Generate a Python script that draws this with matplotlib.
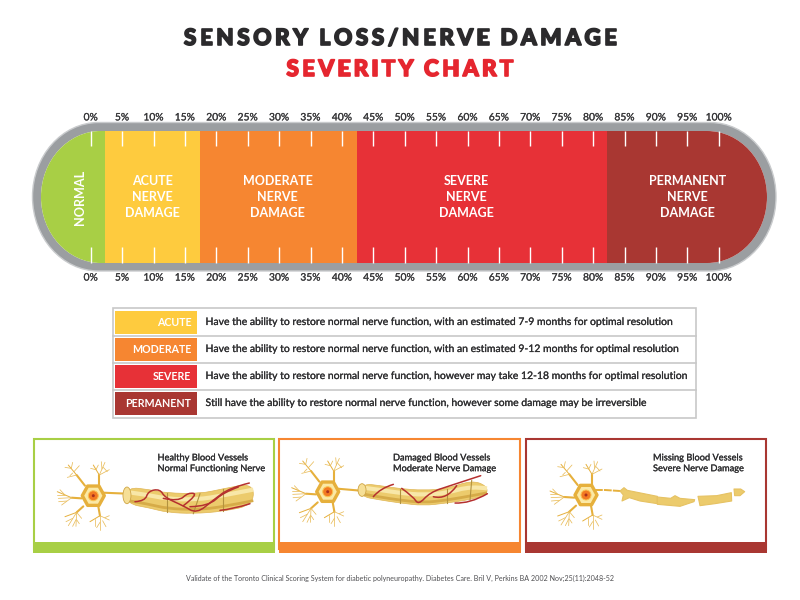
import matplotlib
matplotlib.use("Agg")
import matplotlib.pyplot as plt
import matplotlib.patheffects as pe
from matplotlib.patches import PathPatch, Rectangle, Polygon, Circle, Ellipse
from matplotlib.path import Path

plt.rcParams['font.family'] = ['Lato', 'DejaVu Sans']

# gauge data
tick_pct = [0, 5, 10, 15, 20, 25, 30, 35, 40, 45, 50, 55, 60, 65, 70, 75, 80, 85, 90, 95, 100]
segment_edges = [-8.5, 2.3, 17.4, 42.4, 82.2, 108.5]
segment_colors = ['#a8cf45', '#fecb3e', '#f68631', '#e73137', '#a93732']
segment_labels = ['NORMAL', 'ACUTE\nNERVE\nDAMAGE', 'MODERATE\nNERVE\nDAMAGE', 'SEVERE\nNERVE\nDAMAGE', 'PERMANENT\nNERVE\nDAMAGE']
label_pct = [-1.7, 9.8, 29.8, 59.8, 95.0]

# legend table
legend_names = ['ACUTE', 'MODERATE', 'SEVERE', 'PERMANENT']
legend_colors = ['#fecb3e', '#f68631', '#e73137', '#a93732']
legend_texts = [
    'Have the ability to restore normal nerve function, with an estimated 7-9 months for optimal resolution',
    'Have the ability to restore normal nerve function, with an estimated 9-12 months for optimal resolution',
    'Have the ability to restore normal nerve function, however may take 12-18 months for optimal resolution',
    'Still have the ability to restore normal nerve function, however some damage may be irreversible',
]

# bottom panels
panel_titles = ['Healthy Blood Vessels\nNormal Functioning Nerve',
                'Damaged Blood Vessels\nModerate Nerve Damage',
                'Missing Blood Vessels\nSevere Nerve Damage']
panel_colors = ['#a8cf45', '#f68631', '#a93732']

# neuron drawing, in zoomed px (3x) relative to the soma
dendrites = [
    [(-25, -30), (-50, -62), (-75, -92)], [(-50, -62), (-78, -55)], [(-58, -72), (-42, -90)], [(-66, -82), (-62, -100)],
    [(-66, -82), (-85, -85)], [(-62, -68), (-70, -60)],
    [(18, -30), (18, -62), (0, -92)], [(18, -62), (35, -100)], [(18, -62), (48, -78)], [(30, -85), (42, -72)],
    [(8, -78), (15, -92)], [(8, -78), (-8, -82)], [(26, -80), (24, -102)],
    [(-35, 8), (-65, 6), (-108, -12)], [(-65, 6), (-105, 8)], [(-65, 6), (-95, 28)], [(-85, -2), (-100, -18)],
    [(-80, 16), (-104, 18)], [(-85, -2), (-108, -2)],
    [(-30, 32), (-50, 50), (-85, 63)], [(-50, 50), (-75, 90)], [(-50, 50), (-52, 92)], [(-50, 50), (-35, 68)],
    [(-62, 68), (-82, 78)], [(-52, 72), (-62, 92)], [(-50, 72), (-42, 84)],
    [(15, 32), (20, 60), (-10, 78)], [(20, 60), (20, 103)], [(20, 60), (48, 73)], [(28, 75), (38, 93)],
    [(5, 70), (5, 90)], [(20, 80), (10, 96)], [(34, 66), (48, 60)],
]
hex_angles = [(33, 0), (17, -29), (-17, -29), (-33, 0), (-17, 29), (17, 29)]

healthy_top = [(232, 96), (300, 104), (350, 114), (450, 116), (520, 101), (610, 84)]
healthy_bot = [(610, 150), (520, 169), (430, 176), (350, 172), (300, 159), (230, 146)]
healthy_vessels = [
    [(255, 140), (285, 138), (295, 108), (330, 102), (345, 128), (400, 152), (440, 176), (490, 135), (540, 98), (598, 84)],
    [(340, 130), (385, 140), (415, 112), (445, 118), (400, 152)],
    [(420, 155), (475, 154), (520, 112), (565, 96)],
    [(510, 166), (550, 162), (600, 146)],
]
moderate_top = [(220, 86), (265, 91), (330, 101), (400, 106), (470, 101), (545, 76), (590, 92)]
moderate_bot = [(592, 119), (540, 134), (470, 144), (400, 152), (330, 144), (265, 134), (212, 124)]
moderate_vessels = [
    [(250, 125), (270, 100), (310, 88)],
    [(335, 100), (370, 125), (385, 150), (420, 112), (480, 92), (572, 62)],
    [(430, 125), (470, 135), (500, 92)],
    [(495, 144), (540, 146), (592, 116)],
]
severe_segments = [
    [(240, 108), (252, 98), (262, 106), (352, 124), (352, 146), (300, 138), (268, 128), (246, 138), (250, 120)],
    [(352, 126), (392, 130), (405, 122), (420, 130), (464, 134), (462, 140), (420, 154), (352, 148)],
    [(474, 124), (530, 122), (574, 113), (575, 138), (525, 146), (480, 152)],
    [(582, 102), (602, 102), (614, 110), (600, 122), (584, 122)],
]
severe_link = [(165, 105), (195, 105), (240, 108)]

fig = plt.figure(figsize=(8, 6), dpi=100)
ax = fig.add_axes([0, 0, 1, 1])
ax.set_xlim(0, 800)
ax.set_ylim(600, 0)
ax.axis('off')


def stadium(x0, x1, y0, y1, rx, ry):
    k = 0.5523
    ym = (y0 + y1) / 2
    verts = [(x0 + rx, y0), (x1 - rx, y0),
             (x1 - rx + k * rx, y0), (x1, ym - k * ry), (x1, ym),
             (x1, ym + k * ry), (x1 - rx + k * rx, y1), (x1 - rx, y1),
             (x0 + rx, y1),
             (x0 + rx - k * rx, y1), (x0, ym + k * ry), (x0, ym),
             (x0, ym - k * ry), (x0 + rx - k * rx, y0), (x0 + rx, y0)]
    codes = [Path.MOVETO, Path.LINETO] + [Path.CURVE4] * 6 + [Path.LINETO] + [Path.CURVE4] * 6
    return Path(verts, codes)


def smooth_path(points, closed=False):
    # quadratic curve through the midpoints of a polyline
    if closed:
        points = points + points[:2]
        start = ((points[0][0] + points[1][0]) / 2, (points[0][1] + points[1][1]) / 2)
        verts, codes = [start], [Path.MOVETO]
    else:
        verts, codes = [points[0]], [Path.MOVETO]
    for i in range(1, len(points) - 1):
        mid = ((points[i][0] + points[i + 1][0]) / 2, (points[i][1] + points[i + 1][1]) / 2)
        if not closed and i == len(points) - 2:
            mid = points[i + 1]
        verts += [points[i], mid]
        codes += [Path.CURVE3, Path.CURVE3]
    return Path(verts, codes)


def spaced_text(x, y, s, extra, **kw):
    # centred text with letter spacing, one glyph at a time
    r = fig.canvas.get_renderer()
    widths = []
    for ch in s:
        if ch == ' ':
            t = ax.text(0, 0, 'n', **kw)
            w = t.get_window_extent(r).width * 0.3
        else:
            t = ax.text(0, 0, ch, **kw)
            w = t.get_window_extent(r).width
        t.remove()
        widths.append(w)
    total = sum(widths) + extra * (len(s) - 1)
    cx = x - total / 2
    for ch, w in zip(s, widths):
        if ch != ' ':
            ax.text(cx, y, ch, ha='left', va='center', **kw)
        cx += w + extra


# title
spaced_text(400.5, 38.5, 'SENSORY LOSS/NERVE DAMAGE', 3.5, fontsize=16.2, fontweight='black', color='#2b2a2c',
            path_effects=[pe.withStroke(linewidth=1.2, foreground='#2b2a2c')])
spaced_text(400, 69.5, 'SEVERITY CHART', 3.3, fontsize=16.2, fontweight='black', color='#e5262f',
            path_effects=[pe.withStroke(linewidth=1.2, foreground='#e5262f')])

# gauge shell
ax.add_patch(PathPatch(stadium(32.5, 776, 122.5, 271, 66, 74), fc='#9b9ea1', ec='#c9cbcd', lw=1))
inner = PathPatch(stadium(41, 767, 131, 263, 60, 66), fc='white', ec='none')
ax.add_patch(inner)

# gauge axes in percent, 0% at x=90.7 px and 6.28 px per percent
gauge = fig.add_axes([0, 1 - 271.5 / 600, 1, 147 / 600])
gauge.patch.set_alpha(0)
gauge.set_xlim(-90.7 / 6.28, (800 - 90.7) / 6.28)
gauge.set_ylim(271.5, 124.5)
for s in gauge.spines.values():
    s.set_visible(False)
gauge.set_yticks([])
gauge.set_xticks(tick_pct, [f'{p}%' for p in tick_pct])
gauge.tick_params(axis='x', top=True, bottom=True, labeltop=True, labelbottom=True,
                  length=0, pad=1.5, labelsize=7.4, labelcolor='#38383a')
for lab in gauge.get_xticklabels(which='major'):
    lab.set_path_effects([pe.withStroke(linewidth=0.15, foreground='#38383a')])

for i, color in enumerate(segment_colors):
    bars = gauge.bar(segment_edges[i], 132, width=segment_edges[i + 1] - segment_edges[i], bottom=131,
                     align='edge', color=color, lw=0)
    bars[0].set_clip_path(inner)

gauge.vlines(tick_pct, 131, 145.5, color='white', lw=1)
gauge.vlines(tick_pct, 247, 263, color='white', lw=1)

for i, label in enumerate(segment_labels):
    if label == 'NORMAL':
        gauge.text(label_pct[i], 197, label, rotation=90, ha='center', va='center', color='white',
                   fontsize=9.1, fontweight='bold')
    else:
        gauge.text(label_pct[i], 197, label, ha='center', va='center', color='white', fontsize=9.0,
                   fontweight='bold', linespacing=1.42, multialignment='center')

# legend table
semi = [pe.withStroke(linewidth=0.15, foreground='#2e2e30')]
ax.add_patch(Rectangle((112.5, 307.5), 583, 110, fc='white', ec='#c8c8c8', lw=1.2))
for i, name in enumerate(legend_names):
    top = 311 + 27 * i
    ax.add_patch(Rectangle((114.5, top), 82.5, 23, fc=legend_colors[i], ec='none'))
    if i < 3:
        ax.plot([112.5, 695.5], [top + 24.8, top + 24.8], color='#c8c8c8', lw=1.2)
    ax.text(191.5, top + 11.5, name, ha='right', va='center', color='white', fontsize=7.7, fontweight='bold')
    ax.text(205.5, top + 11.5, legend_texts[i], ha='left', va='center', color='#2e2e30', fontsize=7.5,
            path_effects=semi)


def draw_neuron(cx, cy):
    stroke = '#e6b03c'
    for d in dendrites:
        xs = [cx + p[0] / 3 for p in d]
        ys = [cy + p[1] / 3 for p in d]
        if len(d) == 3:
            ax.plot(xs[:2], ys[:2], color=stroke, lw=1.5, solid_capstyle='round', zorder=3)
            ax.plot(xs[1:], ys[1:], color=stroke, lw=0.7, solid_capstyle='round', zorder=3)
        else:
            ax.plot(xs, ys, color='#e9bd5c', lw=0.55, solid_capstyle='round', zorder=3)
    hexagon = [(cx + a / 3, cy + b / 3) for a, b in hex_angles]
    ax.add_patch(Polygon(hexagon, fc='#fbe9a6', ec=stroke, lw=2.4, joinstyle='round', zorder=4))
    ax.add_patch(Circle((cx, cy), 5, fc='#f37a22', ec='#f9c552', lw=0.7, zorder=5))
    ax.add_patch(Circle((cx, cy), 1.5, fc='#a9301c', ec='none', zorder=6))


def to_px(points, cx, cy, ox, oy):
    return [(cx + (a - ox) / 3, cy + (b - oy) / 3) for a, b in points]


def draw_tube(top, bot, cx, cy, ox, oy, breaks):
    outline = to_px(top + bot, cx, cy, ox, oy)
    ax.add_patch(PathPatch(smooth_path(outline, closed=True), fc='#eccb6c', ec='#e0b655', lw=0.5, zorder=3))
    rev = bot[::-1]
    shine = [((t[0] + b[0]) / 2, t[1] + (b[1] - t[1]) * 0.3) for t, b in zip(top, rev)]
    shadow = [((t[0] + b[0]) / 2, t[1] + (b[1] - t[1]) * 0.8) for t, b in zip(top, rev)]
    ax.add_patch(PathPatch(smooth_path(to_px(shine, cx, cy, ox, oy)), fc='none', ec='#f8e7a8', lw=3, zorder=3.2))
    ax.add_patch(PathPatch(smooth_path(to_px(shadow, cx, cy, ox, oy)), fc='none', ec='#d6ab48', lw=2, zorder=3.2))
    for i in breaks:
        p = to_px([top[i], rev[i]], cx, cy, ox, oy)
        ax.plot([q[0] for q in p], [q[1] for q in p], color='#b3923f', lw=0.8, zorder=3.4)
    p0 = to_px([top[0], bot[-1]], cx, cy, ox, oy)
    ax.add_patch(Ellipse(((p0[0][0] + p0[1][0]) / 2, (p0[0][1] + p0[1][1]) / 2), 8,
                         abs(p0[1][1] - p0[0][1]), fc='#f6df96', ec='#cfa545', lw=0.6, zorder=3.5))


def draw_vessels(lines, cx, cy, ox, oy):
    for line in lines:
        ax.add_patch(PathPatch(smooth_path(to_px(line, cx, cy, ox, oy)), fc='none', ec='#b5302f', lw=1.1,
                               capstyle='round', zorder=3.6))


# bottom panels
panel_x = [[33, 275], [278.5, 521], [525, 767]]
for i, (x0, x1) in enumerate(panel_x):
    c = panel_colors[i]
    ax.add_patch(Rectangle((x0 + 0.7, 438.7), x1 - x0 - 1.4, 110, fc='white', ec=c, lw=1.5))
    ax.add_patch(Rectangle((x0, 541.5), x1 - x0, 11.5, fc=c, ec='none'))

text_x = [157.5, 393, 653]
for i, title in enumerate(panel_titles):
    ax.text(text_x[i], 463.3, title, ha='left', va='center', color='#2e2e30', fontsize=6.65,
            linespacing=1.25, path_effects=semi)

# healthy
cx, cy = 93.3, 495.7
draw_tube(healthy_top, healthy_bot, cx, cy, 130, 122, [2, 3, 4])
ax.plot([cx + 10, 128], [cy - 3, cy - 2], color='#e6b03c', lw=1.5, zorder=3)
draw_vessels(healthy_vessels, cx, cy, 130, 122)
draw_neuron(cx, cy)

# moderate
cx, cy = 327.7, 491.7
draw_tube(moderate_top, moderate_bot, cx, cy, 113, 110, [2, 4, 5])
ax.plot([cx + 10, 361], [cy - 3, cy - 1], color='#e6b03c', lw=1.5, zorder=3)
draw_vessels(moderate_vessels, cx, cy, 113, 110)
draw_neuron(cx, cy)

# severe, nerve in pieces
cx, cy = 586, 495
p = to_px(severe_link, cx, cy, 138, 120)
ax.plot([q[0] for q in p], [q[1] for q in p], color='#e6b03c', lw=1.4, ls=(0, (4, 0.6)), zorder=3)
for seg in severe_segments:
    ax.add_patch(Polygon(to_px(seg, cx, cy, 138, 120), fc='#eccb6c', ec='#e6c263', lw=0.8, joinstyle='round', zorder=3))
draw_neuron(cx, cy)

# source
ax.text(400, 578, 'Validate of the Toronto Clinical Scoring System for diabetic polyneuropathy. Diabetes Care. Bril V, Perkins BA 2002 Nov;25(11):2048-52',
        ha='center', va='center', fontsize=5.1, color='#505053')

fig.savefig('out.png', dpi=100)
